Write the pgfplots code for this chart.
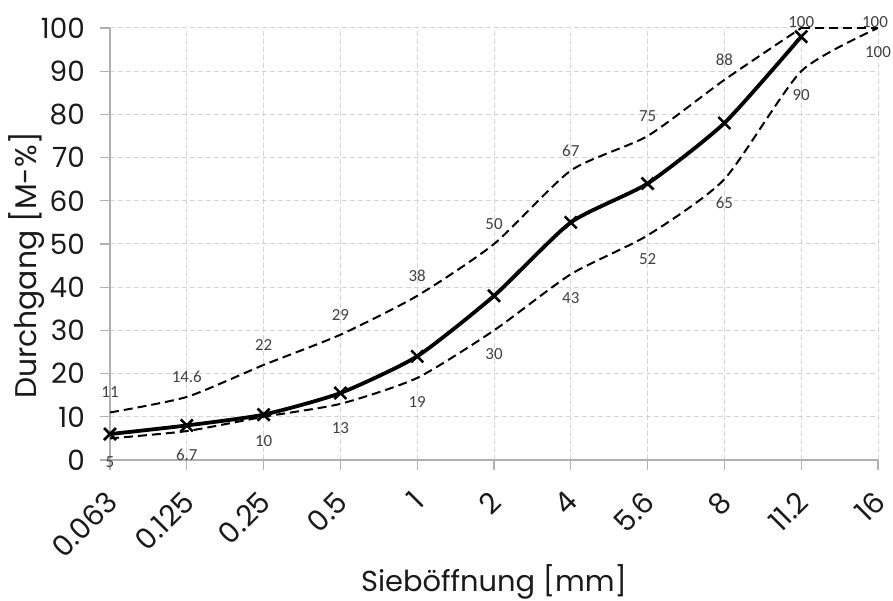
\documentclass[border=0pt]{standalone}
\usepackage{pgfplots}
\pgfplotsset{compat=1.18}
\usepackage{fontspec}
\setmainfont{Poppins}
\newfontfamily\lblfont{Carlito}
\definecolor{gridc}{HTML}{D4D4D4}
\definecolor{axisc}{HTML}{B0B0B0}
\definecolor{lblc}{HTML}{404040}
\definecolor{txtc}{HTML}{1A1A1A}
\begin{document}
\begin{tikzpicture}
\path[use as bounding box] (-110bp,-141bp) rectangle (783bp,460bp);
\begin{axis}[
  at={(0,0)}, anchor=south west,
  scale only axis, width=768bp, height=432bp,
  xmin=0, xmax=10, ymin=0, ymax=100,
  clip=false,
  xtick={0,...,10},
  xticklabels={0.063,0.125,0.25,0.5,1,2,4,5.6,8,11.2,16},
  ytick={0,10,...,100},
  axis lines=left,
  axis line style={-, draw=axisc, line width=1.3bp},
  tick align=outside, major tick length=10bp,
  tick style={draw=axisc, line width=1.1bp},
  grid=major,
  grid style={draw=gridc, dash pattern=on 5bp off 3bp, line width=1bp},
  /pgf/number format/assume math mode=true,
  xticklabel style={xshift=-6bp, yshift=-19bp, rotate=45, anchor=north east, font=\fontsize{29}{32}\selectfont, text=txtc, inner sep=0pt},
  yticklabel style={font=\fontsize{28}{30}\selectfont, text=txtc, inner sep=3bp, xshift=-12bp},
  xlabel={Sieböffnung [mm]},
  ylabel={Durchgang [M-\%]},
  xlabel style={at={(axis description cs:0.5,0)}, anchor=center, yshift=-122bp, font=\fontsize{29}{32}\selectfont, text=txtc},
  ylabel style={at={(axis description cs:0,0.45)}, anchor=center, yshift=83bp, font=\fontsize{30}{32}\selectfont, text=txtc},
]
% upper limit
\addplot[black, line width=2bp, dash pattern=on 9bp off 5bp, smooth, tension=0.38,
  nodes near coords, point meta=explicit symbolic,
  every node near coord/.append style={anchor=center, yshift=20bp, font=\lblfont\fontsize{17}{19}\selectfont, text=lblc}]
  coordinates {(0,11) [11] (1,14.6) [14.6] (2,22) [22] (3,29) [29] (4,38) [38] (5,50) [50] (6,67) [67] (7,75) [75] (8,88) [88] (9,100) []};
\addplot[black, line width=2.3bp, dash pattern=on 9bp off 5bp]
  coordinates {(9,100) (10,100)};
% lower limit
\addplot[black, line width=2bp, dash pattern=on 9bp off 5bp, smooth, tension=0.38,
  nodes near coords, point meta=explicit symbolic,
  every node near coord/.append style={anchor=center, yshift=-24bp, font=\lblfont\fontsize{17}{19}\selectfont, text=lblc}]
  coordinates {(0,5) [5] (1,6.7) [6.7] (2,10) [10] (3,13) [13] (4,19) [19] (5,30) [30] (6,43) [43] (7,52) [52] (8,65) [65] (9,90) [90] (10,100) [100]};
% sieve curve
\addplot[black, line width=3.8bp, smooth, tension=0.35, mark=x, mark size=8.5bp, mark options={line width=2.6bp}]
  coordinates {(0,6) (1,8) (2,10.5) (3,15.5) (4,24) (5,38) (6,55) (7,64) (8,78) (9,98)};
\node[font=\lblfont\fontsize{17}{19}\selectfont, text=lblc, yshift=6bp] at (axis cs:9,100) {100};
\node[font=\lblfont\fontsize{17}{19}\selectfont, text=lblc, yshift=6bp, xshift=-3bp] at (axis cs:10,100) {100};
\end{axis}
\end{tikzpicture}
\end{document}
